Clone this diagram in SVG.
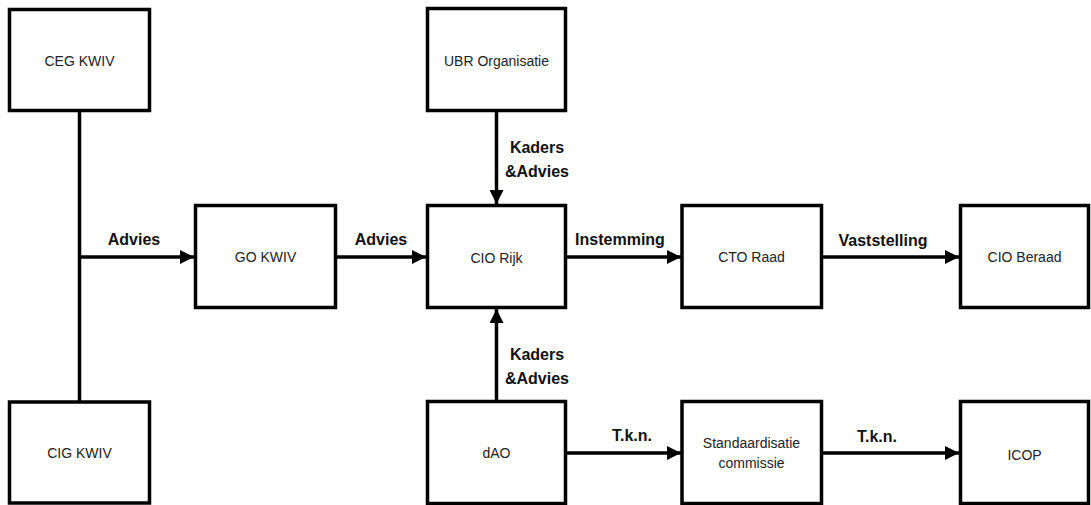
<svg xmlns="http://www.w3.org/2000/svg" width="1091" height="505" viewBox="0 0 1091 505">
<defs>
<marker id="ah" markerUnits="userSpaceOnUse" markerWidth="14" markerHeight="14" viewBox="0 0 14 14" refX="14" refY="7" orient="auto">
<path d="M0,0 L14,7 L0,14 Z" fill="#000"/>
</marker>
</defs>
<style>
.box{fill:#fff;stroke:#000;stroke-width:3.5}
.nt{font-family:"Liberation Sans",Arial,sans-serif;font-size:14px;fill:#222;text-anchor:middle}
.lb{font-family:"Liberation Sans",Arial,sans-serif;font-size:16px;font-weight:bold;fill:#111;text-anchor:middle}
.ln{fill:none;stroke:#000;stroke-width:3.5}
.ar{marker-end:url(#ah)}
</style>
<rect width="1091" height="505" fill="#fff"/>
<g id="connectors">
<path class="ln" d="M79.5,111 V402"/>
<path class="ln ar" d="M79.5,257 H194"/>
<path class="ln ar" d="M336,257 H426"/>
<path class="ln ar" d="M496.5,110 V204"/>
<path class="ln ar" d="M496.5,401 V309"/>
<path class="ln ar" d="M566,257 H681"/>
<path class="ln ar" d="M822,257 H959"/>
<path class="ln ar" d="M566,453 H681"/>
<path class="ln ar" d="M822,453 H959"/>
<text class="lb" x="134" y="245">Advies</text>
<text class="lb" x="381" y="245">Advies</text>
<text class="lb" x="537" y="153">Kaders</text>
<text class="lb" x="537" y="177">&amp;Advies</text>
<text class="lb" x="537" y="360">Kaders</text>
<text class="lb" x="537" y="384">&amp;Advies</text>
<text class="lb" x="620" y="245">Instemming</text>
<text class="lb" x="883" y="246">Vaststelling</text>
<text class="lb" x="632" y="441">T.k.n.</text>
<text class="lb" x="877" y="442">T.k.n.</text>
</g>
<g id="ceg"><rect class="box" x="9.5" y="9.5" width="140" height="101"/><text class="nt" x="79.5" y="66">CEG KWIV</text></g>
<g id="cig"><rect class="box" x="9.5" y="402" width="140" height="101"/><text class="nt" x="79.5" y="458">CIG KWIV</text></g>
<g id="go"><rect class="box" x="195.5" y="205.5" width="140" height="102"/><text class="nt" x="265.5" y="262">GO KWIV</text></g>
<g id="ubr"><rect class="box" x="427.5" y="8.5" width="138" height="102"/><text class="nt" x="496.5" y="66">UBR Organisatie</text></g>
<g id="cio"><rect class="box" x="427.5" y="205.5" width="138" height="102"/><text class="nt" x="496.5" y="263">CIO Rijk</text></g>
<g id="dao"><rect class="box" x="427.5" y="401.5" width="138" height="102"/><text class="nt" x="496.5" y="458">dAO</text></g>
<g id="cto"><rect class="box" x="682" y="205.5" width="139.5" height="102"/><text class="nt" x="751.5" y="262">CTO Raad</text></g>
<g id="std"><rect class="box" x="682" y="401.5" width="139.5" height="102"/><text class="nt" x="751.5" y="448">Standaardisatie</text><text class="nt" x="751.5" y="468">commissie</text></g>
<g id="beraad"><rect class="box" x="960.5" y="205.5" width="128" height="102"/><text class="nt" x="1024.5" y="262">CIO Beraad</text></g>
<g id="icop"><rect class="box" x="960.5" y="401.5" width="128" height="102"/><text class="nt" x="1024.5" y="460">ICOP</text></g>
</svg>
